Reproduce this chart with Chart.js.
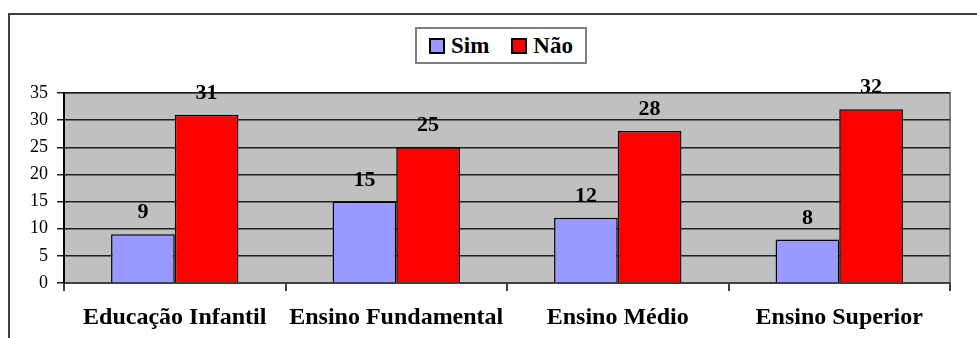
<!DOCTYPE html>
<html lang="pt">
<head>
<meta charset="UTF-8">
<title>Sim / Não</title>
<script src="https://cdn.jsdelivr.net/npm/chart.js"></script>
<style>
  html, body { margin: 0; padding: 0; background: #fff; }
  #wrap { position: relative; width: 977px; height: 338px; }
  #legend {
    position: absolute; left: 415px; top: 27px; width: 168px; height: 33px;
    border: 2px solid #808080; background: #fff;
    font: bold 23px "Liberation Serif", "Times New Roman", serif;
    display: flex; align-items: center; justify-content: center; gap: 22px;
  }
  #legend span { display: inline-flex; align-items: center; }
  #legend i { display: inline-block; width: 12px; height: 12px; border: 2px solid #000; margin-right: 6px; }
</style>
</head>
<body>
<div id="wrap">
  <canvas id="chart" width="977" height="338"></canvas>
  <div id="legend">
    <span><i style="background:#9999ff"></i>Sim</span>
    <span><i style="background:#ff0000"></i>Não</span>
  </div>
</div>
<script>
const categories = ['Educação Infantil', 'Ensino Fundamental', 'Ensino Médio', 'Ensino Superior'];
const simValues = [9, 15, 12, 8];
const naoValues = [31, 25, 28, 32];
const yTicks = [0, 5, 10, 15, 20, 25, 30, 35];

// gray plot area + outer frame
const backdrop = {
  id: 'backdrop',
  beforeDraw(chart) {
    const { ctx, chartArea: a } = chart;
    ctx.save();
    ctx.fillStyle = '#c0c0c0';
    ctx.fillRect(a.left, a.top, a.right - a.left, a.bottom - a.top);
    ctx.strokeStyle = '#808080';
    ctx.lineWidth = 2;
    ctx.strokeRect(a.left, a.top, a.right - a.left, a.bottom - a.top);
    ctx.strokeStyle = '#404040';
    ctx.lineWidth = 2;
    ctx.beginPath();
    ctx.moveTo(977, 14);
    ctx.lineTo(9, 14);
    ctx.lineTo(9, 338);
    ctx.stroke();
    ctx.restore();
  }
};

// value labels above bars
const valueLabels = {
  id: 'valueLabels',
  afterDatasetsDraw(chart) {
    const { ctx } = chart;
    ctx.save();
    ctx.font = 'bold 22px "Liberation Serif", serif';
    ctx.fillStyle = '#000';
    ctx.textAlign = 'center';
    ctx.textBaseline = 'alphabetic';
    chart.data.datasets.forEach((ds, i) => {
      chart.getDatasetMeta(i).data.forEach((bar, j) => {
        ctx.fillText(ds.data[j], bar.x, bar.y - 16);
      });
    });
    ctx.restore();
  }
};

new Chart(document.getElementById('chart'), {
  type: 'bar',
  data: {
    labels: categories,
    datasets: [
      { label: 'Sim', data: simValues, backgroundColor: '#9999ff', borderColor: '#000', borderWidth: 1.5 },
      { label: 'Não', data: naoValues, backgroundColor: '#ff0000', borderColor: '#000', borderWidth: 1.5 }
    ]
  },
  options: {
    responsive: false,
    animation: false,
    layout: { padding: { left: 0, top: 93, right: 27, bottom: 0 } },
    datasets: { bar: { barPercentage: 1, categoryPercentage: 0.575 } },
    plugins: { legend: { display: false }, tooltip: { enabled: false } },
    scales: {
      x: {
        afterFit: s => { s.height = 55; },
        grid: { drawOnChartArea: false, drawTicks: true, tickLength: 8, color: '#404040', lineWidth: 2 },
        border: { color: '#404040', width: 2 },
        ticks: { color: '#000', padding: 12, font: { family: '"Liberation Serif", serif', size: 24, weight: 'bold' } }
      },
      y: {
        min: 0, max: 35,
        afterFit: s => { s.width = 64; },
        afterBuildTicks: s => { s.ticks = yTicks.map(v => ({ value: v })); },
        grid: { color: '#202020', lineWidth: 1.5, tickLength: 7, tickColor: '#202020' },
        border: { color: '#000', width: 2 },
        ticks: { color: '#000', padding: 9, font: { family: '"Liberation Serif", serif', size: 18 } }
      }
    }
  },
  plugins: [backdrop, valueLabels]
});
</script>
</body>
</html>
